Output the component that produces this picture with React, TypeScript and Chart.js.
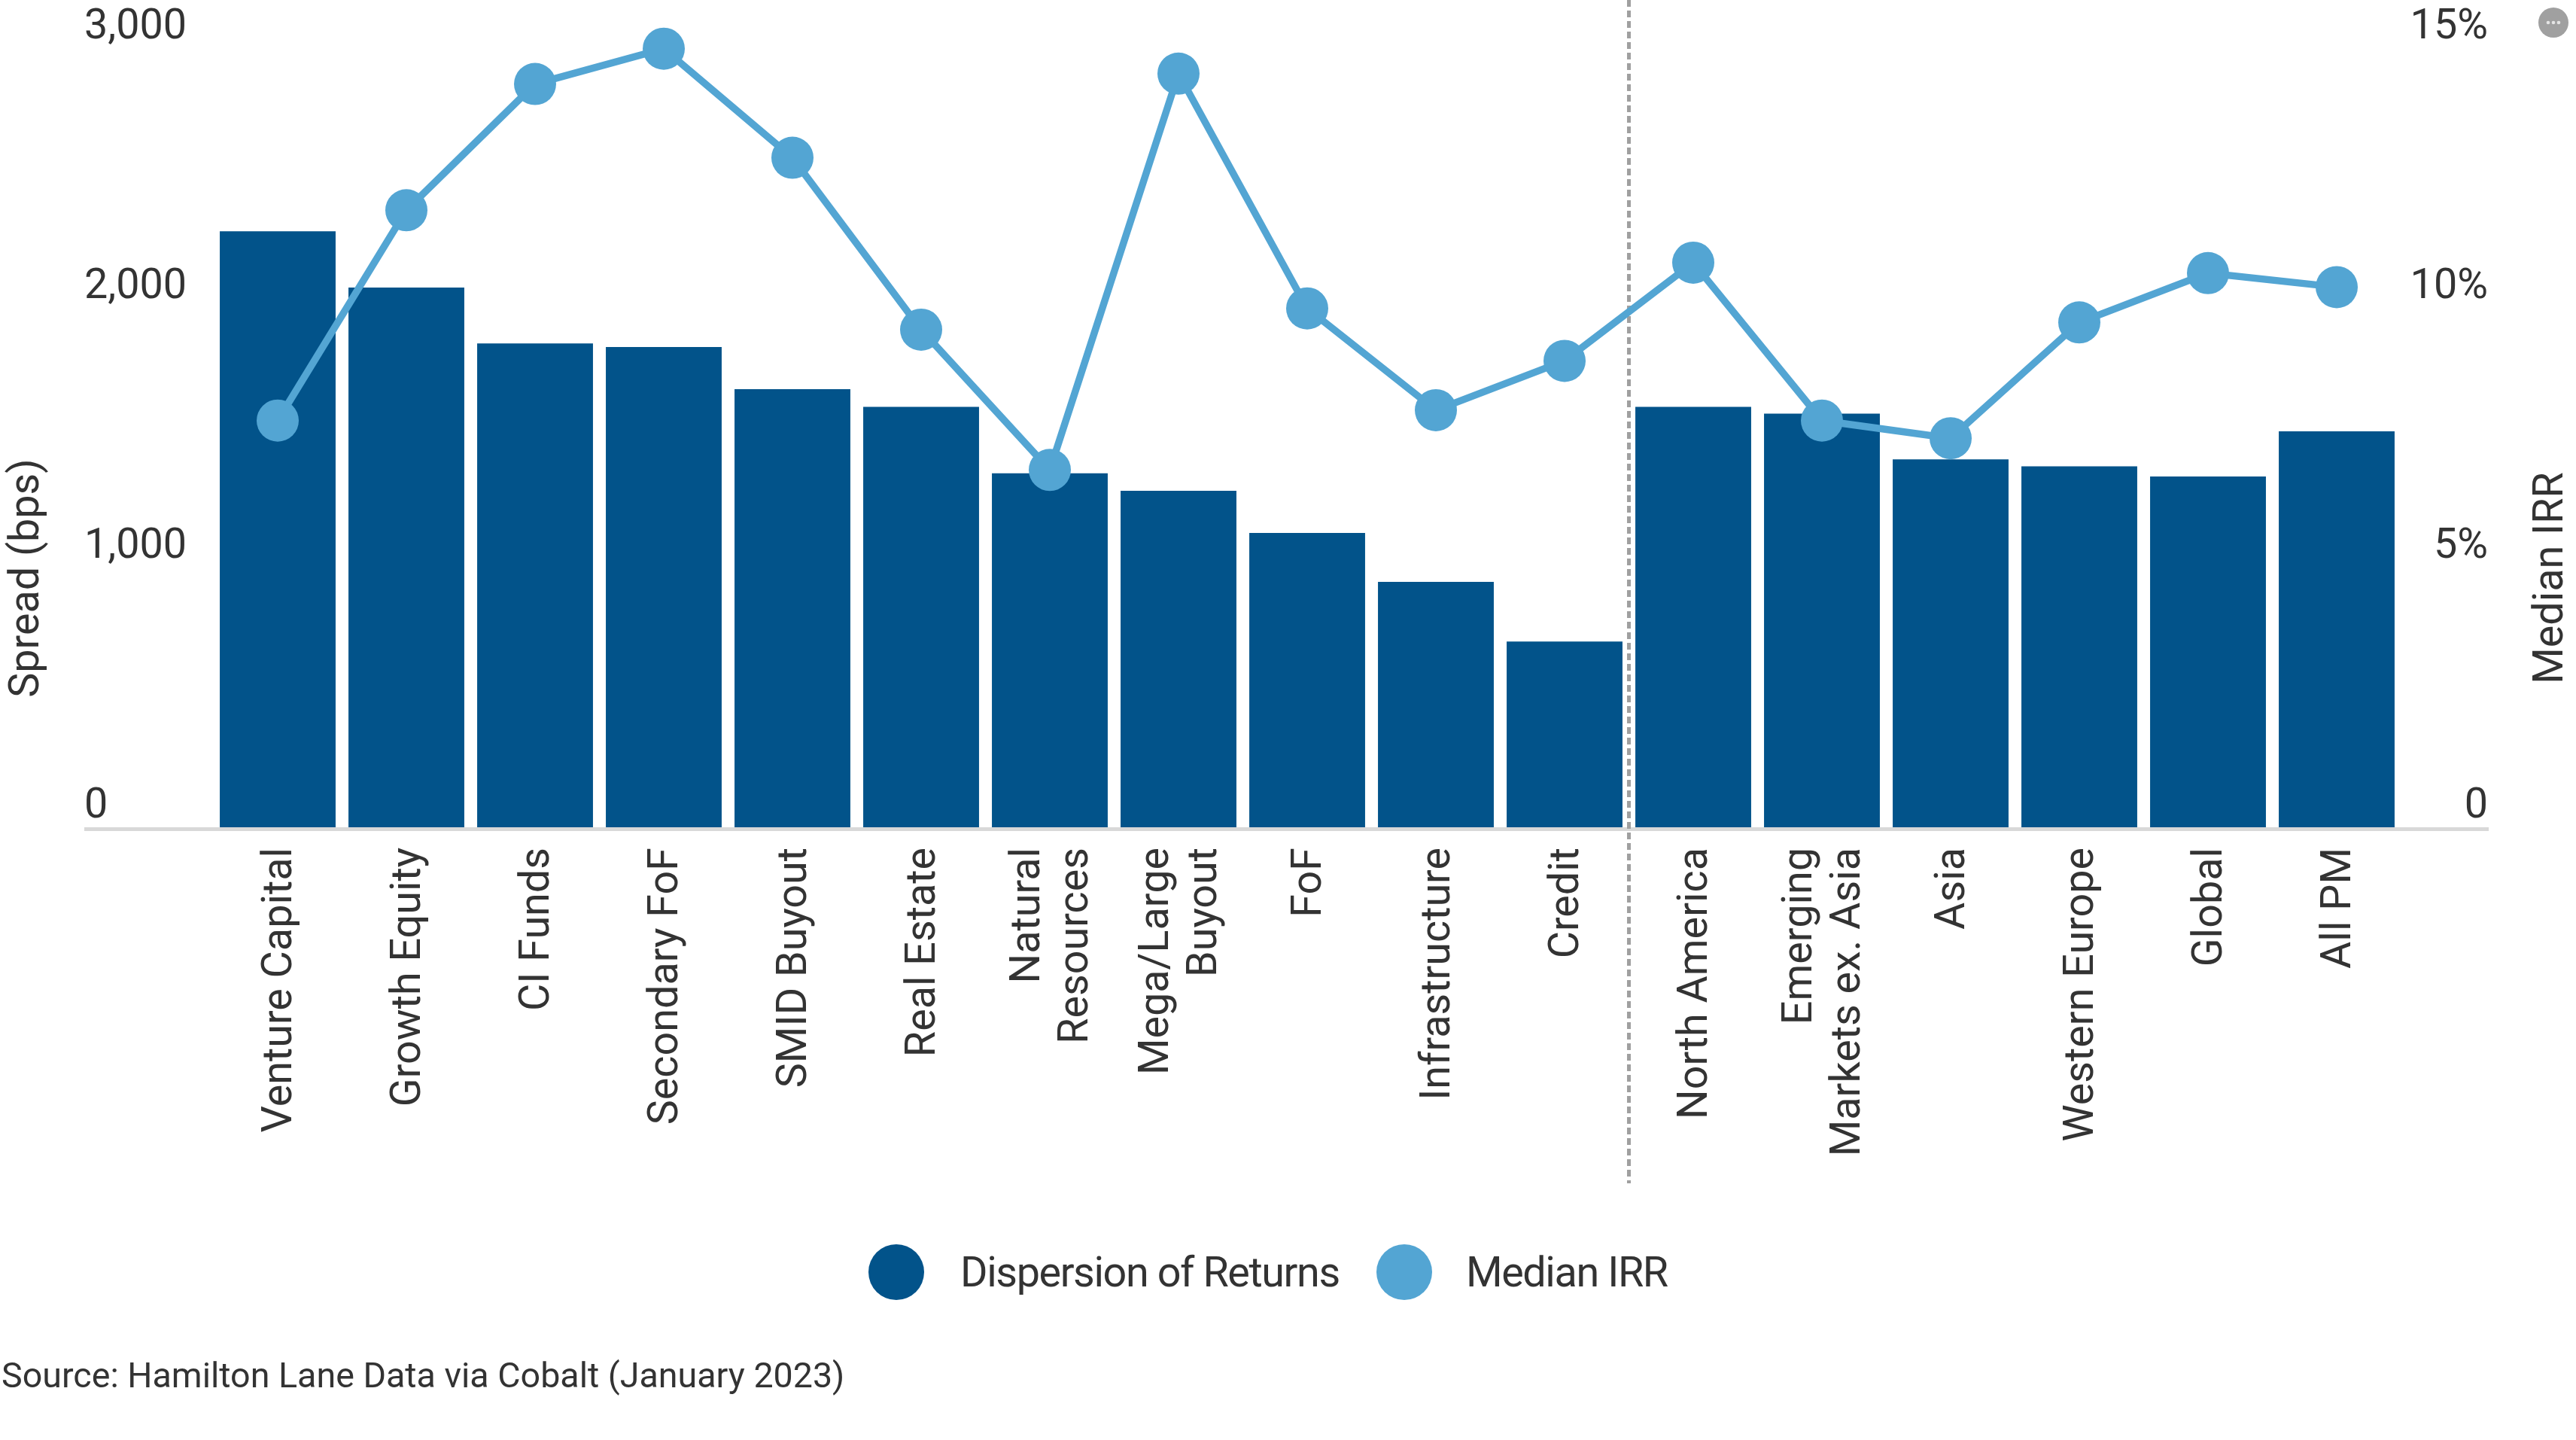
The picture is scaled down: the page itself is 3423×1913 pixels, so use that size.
import React, { useEffect, useRef } from "react";
import { Chart, registerables } from "chart.js";

Chart.register(...registerables);

const categories: (string | string[])[] = [
  "Venture Capital", "Growth Equity", "CI Funds", "Secondary FoF", "SMID Buyout", "Real Estate",
  ["Natural", "Resources"], ["Mega/Large", "Buyout"], "FoF", "Infrastructure", "Credit",
  "North America", ["Emerging", "Markets ex. Asia"], "Asia", "Western Europe", "Global", "All PM",
];
const dispersion = [2295, 2078, 1863, 1849, 1687, 1619, 1363, 1296, 1133, 945, 715, 1619, 1593, 1417, 1390, 1351, 1525];
const medianIrr = [7.83, 11.88, 14.31, 14.99, 12.89, 9.58, 6.88, 14.51, 9.99, 8.03, 8.98, 10.87, 7.83, 7.49, 9.72, 10.67, 10.4];
const sourceNote = "Source: Hamilton Lane Data via Cobalt (January 2023)";
const leftTitle = "Spread (bps)";
const rightTitle = "Median IRR";

const WIDTH = 3423;
const HEIGHT = 1913;
const FONT = "Roboto";
const TEXT = "#333333";
const DARK = "#02538A";
const LIGHT = "#53A5D3";
const TICK_SIZE = 55.7;
const LINE_GAP = 64;

const overlay = {
  id: "overlay",
  beforeDatasetsDraw(chart: any) {
    const { ctx, scales } = chart;
    const y0 = scales.y.getPixelForValue(0);
    ctx.save();
    ctx.fillStyle = "#D8D8D8";
    ctx.fillRect(112, y0, 3195, 5);
    const divX = (scales.x.getPixelForValue(10) + scales.x.getPixelForValue(11)) / 2;
    ctx.strokeStyle = "#A0A0A0";
    ctx.lineWidth = 5;
    ctx.setLineDash([9, 5]);
    ctx.beginPath();
    ctx.moveTo(divX, 0);
    ctx.lineTo(divX, 1572);
    ctx.stroke();
    ctx.restore();
  },
  afterDraw(chart: any) {
    const { ctx } = chart;
    ctx.save();
    ctx.fillStyle = TEXT;
    ctx.textBaseline = "alphabetic";
    ctx.textAlign = "center";
    ctx.font = `${TICK_SIZE}px ${FONT}`;
    for (const [txt, x] of [[leftTitle, 51], [rightTitle, 3405]] as [string, number][]) {
      ctx.save();
      ctx.translate(x, 768);
      ctx.rotate(-Math.PI / 2);
      ctx.fillText(txt, 0, 0);
      ctx.restore();
    }
    // legend
    ctx.textAlign = "left";
    ctx.letterSpacing = "-1.4px";
    const ds = chart.data.datasets;
    const items = [
      { cx: 1191, tx: 1276 },
      { cx: 1866, tx: 1948 },
    ];
    items.forEach((it, i) => {
      ctx.beginPath();
      ctx.arc(it.cx, 1690, 37, 0, Math.PI * 2);
      ctx.fillStyle = ds[i].backgroundColor;
      ctx.fill();
      ctx.fillStyle = TEXT;
      ctx.fillText(ds[i].label, it.tx, 1709);
    });
    ctx.letterSpacing = "0px";
    // source
    ctx.font = `46.6px ${FONT}`;
    ctx.fillText(sourceNote, 2, 1843);
    // menu button
    ctx.fillStyle = "#A0A0A0";
    ctx.beginPath();
    ctx.arc(3393, 30, 20, 0, Math.PI * 2);
    ctx.fill();
    ctx.fillStyle = "#E4E4E4";
    [-7, 0, 7].forEach((d) => {
      ctx.beginPath();
      ctx.arc(3393 + d, 30, 2.3, 0, Math.PI * 2);
      ctx.fill();
    });
    ctx.restore();
  },
};

// Two-line category labels are centred on their tick rather than hanging from it.
function centreWrappedLabels(scale: any) {
  if (scale.__centred) return;
  scale.__centred = true;
  const compute = scale._computeLabelItems.bind(scale);
  scale._computeLabelItems = (area: any) => {
    const items = compute(area);
    for (const item of items) {
      if (Array.isArray(item.label)) {
        const [tx, ty] = item.options.translation;
        item.options.translation = [tx - LINE_GAP / 2, ty];
      }
    }
    return items;
  };
}

export default function App() {
  const ref = useRef<HTMLCanvasElement | null>(null);
  useEffect(() => {
    const chart = new Chart(ref.current as HTMLCanvasElement, {
      type: "bar",
      data: {
        labels: categories as any,
        datasets: [
          {
            type: "bar",
            label: "Dispersion of Returns",
            data: dispersion,
            yAxisID: "y",
            order: 1,
            backgroundColor: DARK,
            borderWidth: 0,
            categoryPercentage: 1,
            barPercentage: 0.9,
          } as any,
          {
            type: "line",
            label: "Median IRR",
            data: medianIrr,
            yAxisID: "y1",
            order: 0,
            borderColor: LIGHT,
            backgroundColor: LIGHT,
            borderWidth: 9.5,
            pointRadius: 28,
            pointBorderWidth: 0,
            pointBackgroundColor: LIGHT,
            tension: 0,
            clip: false,
          } as any,
        ],
      },
      options: {
        responsive: false,
        animation: false,
        devicePixelRatio: 1,
        layout: { padding: { left: 112, right: 117, top: 64, bottom: 0 } },
        plugins: { legend: { display: false }, title: { display: false }, tooltip: { enabled: false } },
        scales: {
          x: {
            type: "category",
            offset: true,
            grid: { display: false, drawTicks: false },
            border: { display: false },
            afterFit: (s: any) => { s.height = HEIGHT - 1099; },
            afterUpdate: centreWrappedLabels,
            ticks: {
              autoSkip: false,
              minRotation: 90,
              maxRotation: 90,
              padding: 27,
              color: TEXT,
              labelOffset: 4.5,
              font: { family: FONT, size: TICK_SIZE, lineHeight: LINE_GAP / TICK_SIZE },
            },
          },
          y: {
            position: "left",
            min: 0,
            max: 3000,
            grid: { display: false, drawTicks: false },
            border: { display: false },
            afterFit: (s: any) => { s.width = 171.5; },
            ticks: {
              stepSize: 1000,
              crossAlign: "far",
              labelOffset: -26.5,
              color: TEXT,
              font: { family: FONT, size: TICK_SIZE },
            },
          },
          y1: {
            position: "right",
            min: 0,
            max: 15,
            grid: { display: false, drawTicks: false },
            border: { display: false },
            afterFit: (s: any) => { s.width = 115.5; },
            ticks: {
              stepSize: 5,
              crossAlign: "far",
              labelOffset: -26.5,
              color: TEXT,
              font: { family: FONT, size: TICK_SIZE },
              callback: (v: any) => (v === 0 ? "0" : `${v}%`),
            },
          },
        },
      } as any,
      plugins: [overlay],
    });
    return () => chart.destroy();
  }, []);
  return (
    <canvas
      ref={ref}
      width={WIDTH}
      height={HEIGHT}
      style={{ position: "fixed", left: 0, top: 0, display: "block", width: WIDTH, height: HEIGHT }}
    />
  );
}
